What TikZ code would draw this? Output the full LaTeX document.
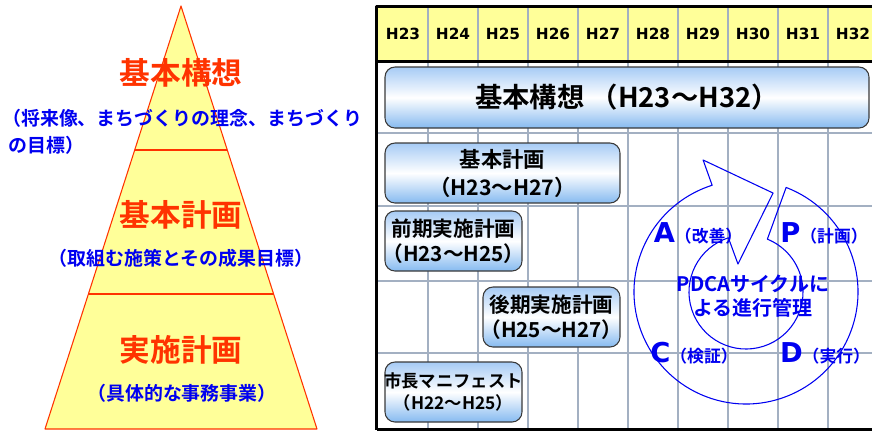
\documentclass[tikz,border=0pt]{standalone}
\usepackage{fontspec}
\setmainfont{Noto Sans CJK JP Bold}
\newfontfamily\latb{DejaVu Sans Bold}
\usetikzlibrary{calc,positioning}

\definecolor{pyrfill}{HTML}{FFFF99}
\definecolor{pyrline}{HTML}{FF3300}
\definecolor{notblue}{HTML}{0000F0}
\definecolor{hdryellow}{HTML}{FFFF99}
\definecolor{gridgray}{HTML}{A3B0C2}
\definecolor{boxtop}{HTML}{A6CBF5}
\definecolor{boxbot}{HTML}{86BAF0}
\definecolor{boxline}{HTML}{3A3A3A}

\newcommand\phaseletter[1]{{\latb\fontsize{20.5}{22}\selectfont #1}}

\begin{document}
\begin{tikzpicture}[x=0.75pt, y=-0.75pt, line join=round,
  tiertitle/.style={text=pyrline, font=\fontsize{23}{26}\selectfont, inner sep=0pt},
  tiernote/.style={text=notblue, font=\fontsize{14.2}{16}\selectfont, inner sep=0pt},
  gridline/.style={draw=gridgray, line width=1.4pt},
  frameline/.style={draw=black, line width=2.25pt},
  yrlabel/.style={font=\latb\fontsize{11.5}{12}\selectfont, inner sep=0pt},
  planbox/.style={draw=boxline, line width=0.8pt, rounded corners=7.5pt,
    top color=boxtop, bottom color=boxbot, middle color=white, inner sep=0pt},
  plantext/.style={align=center, inner sep=0pt},
  cycleline/.style={draw=notblue, line width=0.8pt},
  phase/.style={text=notblue, font=\fontsize{12.6}{14}\selectfont, inner sep=0pt},
  cyclenote/.style={text=notblue, align=center, inner sep=0pt,
    font=\fontsize{15}{18}\selectfont}]

  \useasboundingbox (0,0) rectangle (872,430);
  \clip (0,0) rectangle (872,430);

  % coordinates
  \coordinate (apex) at (181,6);
  \coordinate (bl) at (45,429);
  \coordinate (br) at (317,429);

  % shaded triangle
  \filldraw[fill=pyrfill, draw=pyrline, line width=0.8pt] (apex) -- (bl) -- (br) -- cycle;

  % tier lines
  \draw[pyrline, line width=1.2pt] ($(apex)!0.3404!(bl)$) -- ($(apex)!0.3404!(br)$);
  \draw[pyrline, line width=1.2pt] ($(apex)!0.6809!(bl)$) -- ($(apex)!0.6809!(br)$);

  % tiers
  \node[tiertitle] (koso) at (181,73) {基本構想};
  \node[tiernote, anchor=west] (koso-n1) at (2,118) {（将来像、まちづくりの理念、まちづくり};
  \node[tiernote, anchor=west] (koso-n2) at (8,145) {の目標）};
  \node[tiertitle] (keikaku) at (181,215) {基本計画};
  \node[tiernote] (keikaku-n) at (181,258) {（取組む施策とその成果目標）};
  \node[tiertitle] (jisshi) at (181,350) {実施計画};
  \node[tiernote] (jisshi-n) at (182,393) {（具体的な事務事業）};

  % header
  \fill[hdryellow] (378,8) rectangle (872,60);

  % grid
  \foreach \i in {1,...,9}
    \draw[gridline] (378+50*\i,8) -- (378+50*\i,430);
  \foreach \y in {133,206,281,353}
    \draw[gridline] (378,\y) -- (872,\y);

  % frame
  \draw[frameline] (872,6.5) -- (376.5,6.5) -- (376.5,430);
  \draw[frameline] (378,61) -- (872,61);
  \draw[frameline] (376.5,429) -- (872,429);

  % years
  \foreach \yr [count=\i from 0] in {23,...,32}
    \node[yrlabel] (h\yr) at (403+50*\i,34) {H\yr};

  % plans
  \node[planbox, minimum width=363pt, minimum height=45.75pt] (kihonkoso) at (627,97.5) {};
  \node[plantext, font=\fontsize{20.5}{22}\selectfont] (kihonkoso-t) at (kihonkoso) {基本構想 （H23～H32）};

  \node[planbox, minimum width=176.25pt, minimum height=45pt] (kihonkeikaku) at (502.5,173) {};
  \node[plantext, font=\fontsize{16}{21}\selectfont] (kihonkeikaku-t) at (kihonkeikaku) {基本計画\\（H23～H27）};

  \node[planbox, minimum width=102.75pt, minimum height=45pt] (zenki) at (453.5,241) {};
  \node[plantext, font=\fontsize{15.5}{18.75}\selectfont] (zenki-t) at (zenki) {前期実施計画\\（H23～H25）};

  \node[planbox, minimum width=102.75pt, minimum height=45pt] (koki) at (551.5,317) {};
  \node[plantext, font=\fontsize{15.5}{18.75}\selectfont] (koki-t) at (koki) {後期実施計画\\（H25～H27）};

  \node[planbox, minimum width=102.75pt, minimum height=45pt] (manifest) at (453.5,392) {};
  \node[plantext, font=\fontsize{13}{16.5}\selectfont] (manifest-t) at (manifest) {市長マニフェスト\\（H22～H25）};

  % PDCA cycle
  \begin{scope}[shift={(746,292)}, y=0.75pt]
    \coordinate (pdca) at (0,0);
    \draw[cycleline] (69:112) arc[start angle=69, end angle=-252.4, radius=112]
      -- (108:138.8) -- (74.7:102.6) -- (106:29.1) -- (108:57)
      arc[start angle=108, end angle=428, radius=57] -- cycle;
  \end{scope}

  \node[phase] (act) at (698,233) {\phaseletter{A}（改善）};
  \node[phase] (plan) at (824,233) {\phaseletter{P}（計画）};
  \node[phase] (check) at (694,353) {\phaseletter{C}（検証）};
  \node[phase] (do) at (825,353) {\phaseletter{D}（実行）};
  \node[cyclenote] (pdca-t) at (753,296) {PDCAサイクルに\\よる進行管理};
\end{tikzpicture}
\end{document}
